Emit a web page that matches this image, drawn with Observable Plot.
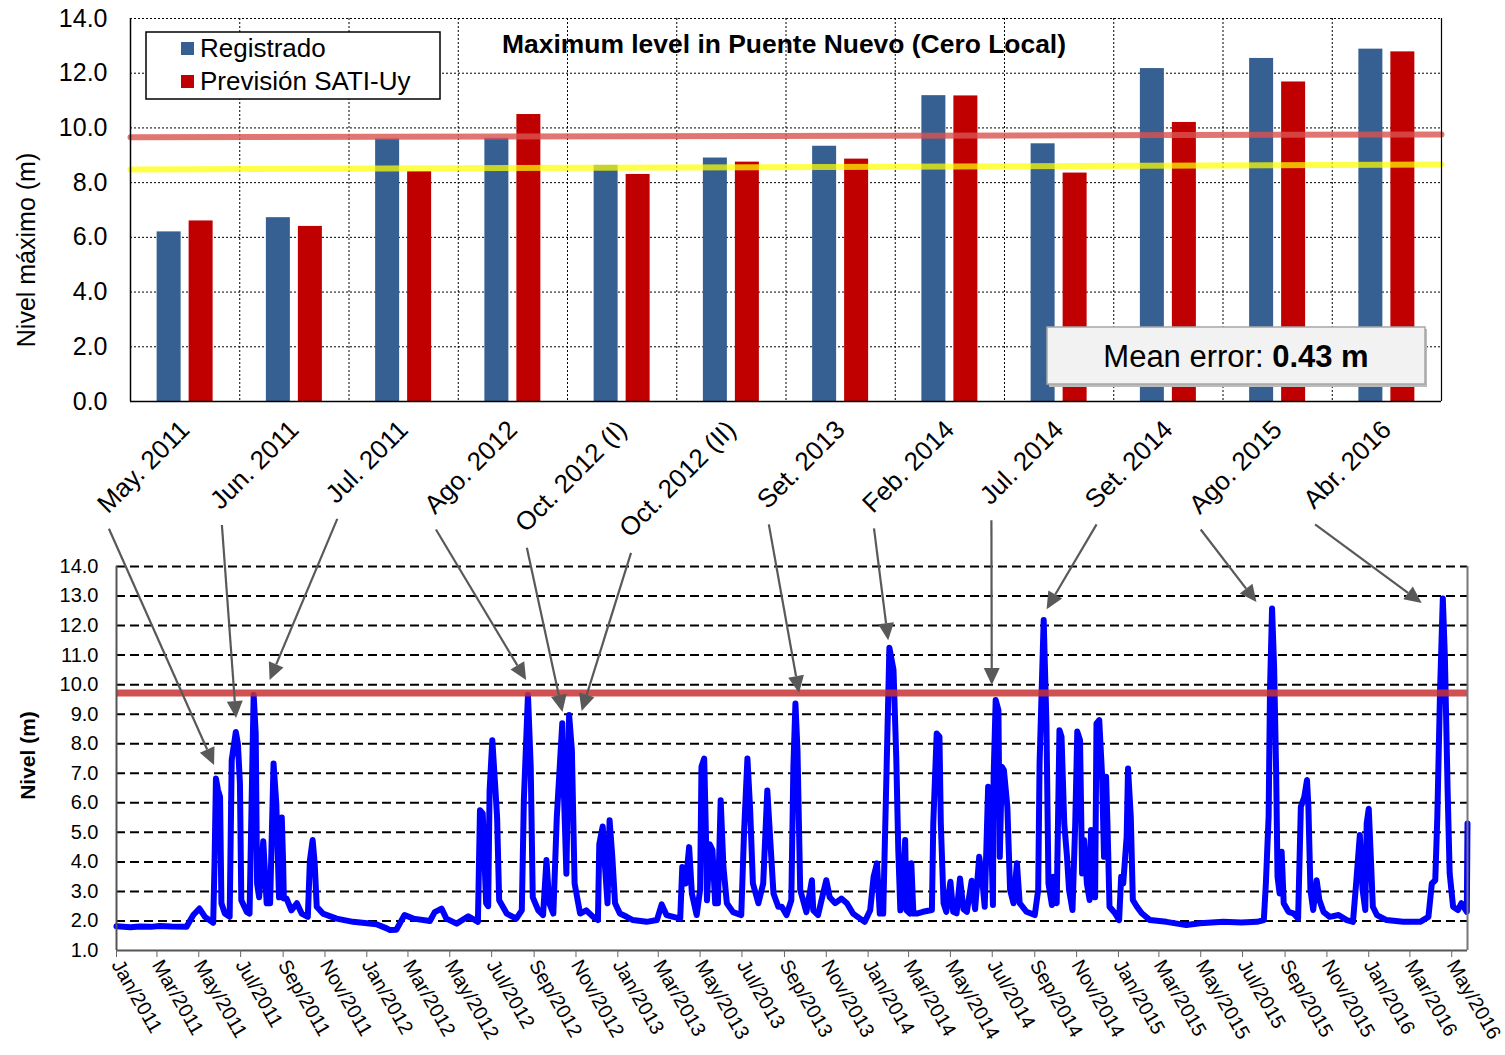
<!DOCTYPE html>
<html><head><meta charset="utf-8">
<script src="https://cdn.jsdelivr.net/npm/d3@7"></script>
<script src="https://cdn.jsdelivr.net/npm/@observablehq/plot@0.6"></script>
<style>
body{margin:0;background:#fff;}
#wrap{position:relative;width:1505px;height:1055px;font-family:"Liberation Sans",Arial,sans-serif;overflow:hidden;}
#top,#bottom{position:absolute;left:0;}
#top{top:0}
#bottom{top:540px}
#overlay{position:absolute;left:0;top:0;pointer-events:none}
</style></head><body>
<div id="wrap"><div id="top"></div><div id="bottom"></div><svg id="overlay" width="1505" height="1055"></svg></div>
<script>
// ---------- data: top bar chart ----------
const categories = ["May. 2011","Jun. 2011","Jul. 2011","Ago. 2012","Oct. 2012 (I)","Oct. 2012 (II)","Set. 2013","Feb. 2014","Jul. 2014","Set. 2014","Ago. 2015","Abr. 2016"];
const registrado = [6.2,6.72,9.6,9.62,8.63,8.9,9.33,11.18,9.42,12.17,12.54,12.88];
const prevision  = [6.6,6.4,8.4,10.49,8.3,8.75,8.86,11.17,8.35,10.2,11.68,12.78];
const redLineLevels = [9.66, 9.76];    // left end, right end
const yellowLineLevels = [8.48, 8.66]; // left end, right end
const topTicks = [0,2,4,6,8,10,12,14];
const seriesNames = ["Registrado","Previsión SATI-Uy"];
const titleText = "Maximum level in Puente Nuevo (Cero Local)";
const meanErrorLabel = "Mean error: ";
const meanErrorValue = "0.43 m";

// ---------- data: bottom time series (days since start, level m) ----------
const seriesStart = "2011-01-01";
const seriesDay = [0,20,34,50,63,80,102,112,121,129,141,143,145,148,151,153,158,165,168,174,177,180,182,190,194,197,200,203,205,208,214,219,224,229,233,237,241,243,244,248,255,263,270,279,282,286,289,292,301,321,345,379,394,
399,408,420,433,457,464,474,481,496,513,527,530,534,539,542,544,548,552,555,558,569,583,591,594,600,604,607,615,622,627,631,637,642,650,652,656,660,664,668,676,685,695,702,704,709,712,716,719,723,727,734,744,753,773,788,
795,802,822,825,830,835,839,846,851,853,857,860,861,865,869,873,877,881,885,890,899,911,915,920,924,928,936,943,949,953,958,965,970,977,984,987,990,993,997,1006,1014,1016,1023,1028,1035,1040,1048,1057,1065,1074,1091,1099,1104,1109,1113,1118,1123,1127,1133,1137,1140,1143,1147,1150,1152,1157,1159,1162,1167,
1176,1189,1191,1196,1200,1202,1206,1210,1216,1220,1225,1230,1235,1240,1247,1252,1258,1262,1266,1271,1275,1278,1279,1282,1286,1288,1291,1294,1299,1303,1308,1313,1317,1327,1339,1344,1346,1352,1356,1359,1364,1366,1371,1375,1378,1382,1386,1389,1394,1398,1401,1405,1408,1411,1415,1419,1421,1424,1427,1429,1433,1437,1440,1443,1445,1448,1456,1462,1465,1468,1473,1475,1479,1482,1488,1495,1507,1531,1560,1580,
1614,1640,1663,1673,1676,1680,1682,1685,1688,1691,1693,1696,1699,1702,1709,1716,1723,1727,1732,1736,1738,1741,1745,1750,1754,1760,1769,1782,1794,1803,1808,1813,1817,1821,1823,1826,1829,1832,1838,1852,1876,1901,1913,1918,1923,1926,1930,1934,1937,1941,1944,1949,1956,1961,1969,1970];
const seriesLevel = [1.82,1.79,1.81,1.8,1.83,1.81,1.8,2.2,2.42,2.14,1.94,4.0,6.82,6.43,6.2,2.6,2.25,2.14,7.45,8.4,8.0,6.65,2.7,2.3,2.25,6.0,9.65,8.35,3.27,2.8,4.7,2.6,2.6,7.33,5.98,2.8,5.5,3.95,2.76,2.76,2.36,2.6,2.25,2.14,4.05,4.74,3.95,2.48,2.25,2.08,1.97,1.89,1.75,
1.69,1.7,2.2,2.08,2.0,2.3,2.42,2.08,1.91,2.16,1.97,5.75,5.64,2.6,2.5,6.4,8.12,6.65,5.5,2.7,2.25,2.08,2.36,6.1,9.65,7.22,2.8,2.36,2.2,4.06,2.6,2.25,5.5,8.69,6.65,3.6,8.97,7.8,3.27,2.25,2.36,2.14,2.03,4.6,5.2,3.95,2.6,5.41,4.17,2.6,2.25,2.14,2.03,1.97,2.03,
2.56,2.2,2.08,3.83,3.27,4.5,2.93,2.2,3.05,7.22,7.5,4.39,2.7,4.6,4.4,2.6,2.6,6.09,3.83,2.6,2.3,2.2,4.96,7.5,5.75,3.27,2.6,3.27,6.42,4.85,2.93,2.48,2.48,2.2,2.7,7.22,9.36,7.78,3.05,2.3,3.38,2.36,2.2,2.7,3.38,2.8,2.6,2.76,2.6,2.25,1.97,2.36,3.5,3.95,2.25,2.25,7.22,11.25,10.5,7.56,4.39,2.36,3.27,4.74,2.36,2.25,3.95,2.25,2.25,
2.31,2.37,5.3,8.35,8.24,5.3,2.6,2.31,3.33,2.31,2.26,3.44,2.4,2.31,3.36,2.4,4.17,3.5,2.48,6.54,5.3,2.54,6.88,9.48,9.14,4.17,7.22,7.1,5.87,3.05,2.6,3.95,2.6,2.31,2.2,3.05,7.33,12.19,8.69,3.27,2.54,3.5,2.6,8.46,8.24,5.3,4.17,3.05,2.37,5.3,8.41,8.12,3.61,4.74,3.27,2.71,5.08,4.4,2.8,8.69,8.8,7.0,4.17,6.88,5.3,2.48,2.26,2.03,3.5,3.27,4.85,7.16,5.53,2.71,2.48,2.26,2.03,1.97,1.86,1.92,
1.97,1.95,1.97,2.03,3.27,5.53,9.82,12.58,10.6,7.0,3.5,2.93,4.34,2.6,2.31,2.26,2.09,5.87,6.2,6.77,5.87,3.05,2.37,3.38,2.71,2.31,2.14,2.2,2.03,1.97,3.38,4.91,3.05,2.37,5.3,5.8,4.17,2.48,2.2,2.03,1.97,1.97,2.14,3.27,3.38,5.53,9.82,12.92,10.95,6.43,3.61,2.48,2.37,2.6,2.31,5.3];
const alertLevel = 9.72;
const bottomTicks = [1,2,3,4,5,6,7,8,9,10,11,12,13,14];
// arrow tips for each event (days since start, level m)
const eventDay   = [143,175,224,598,651,679,996,1126,1277,1357,1663,1904];
const eventLevel = [7.26,8.85,10.14,10.14,9.06,9.09,9.7,11.49,9.97,12.54,12.78,12.75];

// ---------- build ----------
const FONT = "Liberation Sans, Arial, sans-serif";
const W = 1505;
const idx = categories.map((c, i) => i);
const topML = 130, topMR = 64;
const band = (W - topML - topMR) / categories.length;
const barW = 24, gap = 8;

const topPlot = Plot.plot({
  width: W, height: 560,
  marginTop: 18, marginBottom: 159, marginLeft: topML, marginRight: topMR,
  style: {fontFamily: FONT, background: "transparent", overflow: "visible", color: "#000"},
  x: {domain: [0, categories.length], axis: null},
  y: {domain: [0, 14]},
  marks: [
    Plot.ruleY(topTicks.slice(1), {stroke: "#000", strokeDasharray: "2,2", strokeWidth: 1}),
    Plot.ruleX(d3.range(1, categories.length), {stroke: "#000", strokeDasharray: "2,2", strokeWidth: 1}),
    Plot.rectY(idx, {x1: i => i, x2: i => i + 1, y1: 0, y2: i => registrado[i], fill: "#376092",
      insetLeft: band / 2 - barW - gap / 2, insetRight: band / 2 + gap / 2}),
    Plot.rectY(idx, {x1: i => i, x2: i => i + 1, y1: 0, y2: i => prevision[i], fill: "#c00000",
      insetLeft: band / 2 + gap / 2, insetRight: band / 2 - barW - gap / 2}),
    Plot.line([0, 1], {x: k => k * categories.length, y: k => redLineLevels[k], stroke: "#d9534f", strokeOpacity: 0.8, strokeWidth: 6}),
    Plot.line([0, 1], {x: k => k * categories.length, y: k => yellowLineLevels[k], stroke: "#ffff00", strokeOpacity: 0.72, strokeWidth: 6}),
    Plot.ruleX([0], {stroke: "#000", strokeWidth: 1.5}),
    Plot.ruleX([categories.length], {stroke: "#000", strokeWidth: 1.2}),
    Plot.ruleY([0], {stroke: "#000", strokeWidth: 1.5}),
    Plot.axisY({ticks: topTicks, tickFormat: d => d.toFixed(1), tickSize: 0, tickPadding: 23, fontSize: 25, label: null}),
    Plot.text(["Nivel máximo (m)"], {frameAnchor: "left", textAnchor: "middle", rotate: -90, dx: -104, dy: 40, fontSize: 25}),
    Plot.text(idx, {x: i => i + 0.5, y: 0, text: i => categories[i], rotate: -45, textAnchor: "end", dx: 0, dy: 24, fontSize: 26})
  ]
});
document.getElementById("top").appendChild(topPlot);

const t0 = d3.utcParse("%Y-%m-%d")(seriesStart);
const series = seriesDay.map((d, i) => ({date: d3.utcDay.offset(t0, d), level: seriesLevel[i]}));
const tEnd = series[series.length - 1].date;
const monthTicks = d3.utcMonth.every(2).range(t0, d3.utcDay.offset(tEnd, 1));

const bottomPlot = Plot.plot({
  width: W, height: 515,
  marginTop: 26, marginBottom: 105, marginLeft: 116, marginRight: 38,
  style: {fontFamily: FONT, background: "transparent", overflow: "visible", color: "#000"},
  x: {type: "utc", domain: [t0, tEnd]},
  y: {domain: [1, 14]},
  marks: [
    Plot.ruleY(bottomTicks.slice(1), {stroke: "#000", strokeDasharray: "9,5", strokeWidth: 2}),
    Plot.line(series, {x: "date", y: "level", stroke: "#0000ff", strokeWidth: 6, strokeLinejoin: "round"}),
    Plot.ruleY([alertLevel], {stroke: "#c83232", strokeOpacity: 0.85, strokeWidth: 7}),
    Plot.ruleY([1], {stroke: "#555", strokeWidth: 2}),
    Plot.ruleX([t0], {stroke: "#555", strokeWidth: 2}),
    Plot.ruleX([tEnd], {stroke: "#777", strokeWidth: 2}),
    Plot.axisY({ticks: bottomTicks, tickFormat: d => d.toFixed(1), tickSize: 0, tickPadding: 18, fontSize: 20, label: null}),
    Plot.axisX({ticks: monthTicks, tickFormat: d3.utcFormat("%b/%Y"), tickRotate: 60, tickSize: 7, tickPadding: 4, fontSize: 20, stroke: "#666", label: null}),
    Plot.text(["Nivel (m)"], {frameAnchor: "left", textAnchor: "middle", rotate: -90, dx: -88, dy: -3, fontSize: 21, fontWeight: "bold"})
  ]
});
document.getElementById("bottom").appendChild(bottomPlot);

// ---------- overlay: title, legend, mean-error box, arrows ----------
const ov = d3.select("#overlay");
const wr = document.getElementById("wrap").getBoundingClientRect();

// title
ov.append("text").attr("x", 784).attr("y", 53).attr("text-anchor", "middle")
  .attr("font-family", FONT).attr("font-size", 26).attr("font-weight", "bold")
  .attr("textLength", 564).attr("lengthAdjust", "spacingAndGlyphs").text(titleText);

// legend
ov.append("rect").attr("x", 146).attr("y", 32).attr("width", 294).attr("height", 67)
  .attr("fill", "#fff").attr("stroke", "#000").attr("stroke-width", 1.5);
[["#376092", 57], ["#c00000", 90]].forEach(([c, yb], k) => {
  ov.append("rect").attr("x", 181).attr("y", yb - 15).attr("width", 13).attr("height", 13).attr("fill", c);
  ov.append("text").attr("x", 200).attr("y", yb).attr("font-family", FONT).attr("font-size", 26).text(seriesNames[k]);
});

// mean error box
ov.append("rect").attr("x", 1049).attr("y", 329).attr("width", 378).attr("height", 58).attr("fill", "#bbb");
ov.append("rect").attr("x", 1047).attr("y", 327).attr("width", 378).attr("height", 57)
  .attr("fill", "#f2f2f2").attr("stroke", "#a6a6a6").attr("stroke-width", 1.5);
const me = ov.append("text").attr("x", 1236).attr("y", 367).attr("text-anchor", "middle")
  .attr("font-family", FONT).attr("font-size", 31);
me.append("tspan").text(meanErrorLabel);
me.append("tspan").attr("font-weight", "bold").text(meanErrorValue);

// arrows from category labels to the peaks
const br = bottomPlot.getBoundingClientRect();
const sx = bottomPlot.scale("x"), sy = bottomPlot.scale("y");
const labelEls = Array.from(topPlot.querySelectorAll("text")).filter(t => categories.includes(t.textContent));
categories.forEach((c, i) => {
  const el = labelEls.find(t => t.textContent === c);
  const r = el.getBoundingClientRect();
  const x1 = r.left - wr.left + 18, y1 = r.bottom - wr.top + 10;
  const x2 = br.left - wr.left + sx.apply(d3.utcDay.offset(t0, eventDay[i]));
  const y2 = br.top - wr.top + sy.apply(eventLevel[i]);
  const a = Math.atan2(y2 - y1, x2 - x1), HL = 17, HW = 8;
  const bx = x2 - HL * Math.cos(a), by = y2 - HL * Math.sin(a);
  ov.append("line").attr("x1", x1).attr("y1", y1).attr("x2", bx).attr("y2", by)
    .attr("stroke", "#595959").attr("stroke-width", 2.2);
  ov.append("polygon").attr("fill", "#595959").attr("points",
    [[x2, y2], [bx + HW * Math.sin(a), by - HW * Math.cos(a)], [bx - HW * Math.sin(a), by + HW * Math.cos(a)]]
      .map(p => p.join(",")).join(" "));
});
</script>
</body></html>
